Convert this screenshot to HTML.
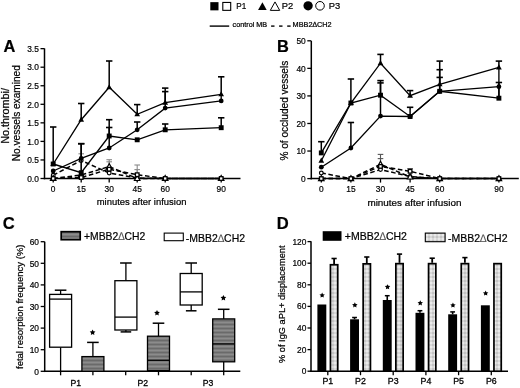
<!DOCTYPE html>
<html><head><meta charset="utf-8"><style>
html,body{margin:0;padding:0;background:#fff;}
svg{display:block;will-change:transform;}
text{font-family:"Liberation Sans",sans-serif;stroke:#000;stroke-width:0.22px;}
</style></head><body>
<svg width="520" height="388" viewBox="0 0 520 388">
<rect width="520" height="388" fill="#fff"/>
<defs>
<pattern id="cg" patternUnits="userSpaceOnUse" width="6" height="4">
<rect width="6" height="4" fill="#7c7c7c"/><rect y="0" width="6" height="1" fill="#6a6a6a"/><rect y="2" width="6" height="1" fill="#8c8c8c"/>
</pattern>
<pattern id="dg" patternUnits="userSpaceOnUse" width="4" height="4">
<rect width="4" height="4" fill="#d8d8d8"/><rect width="2" height="2" fill="#c4c4c4"/><rect x="2" y="2" width="2" height="2" fill="#eaeaea"/>
</pattern>
</defs>
<rect x="210.3" y="2.15" width="8.2" height="8.2" fill="#000"/>
<rect x="222.8" y="2.45" width="7.9" height="7.9" fill="#fff" stroke="#000" stroke-width="1.1"/>
<text x="236.3" y="9" font-size="9.8" text-anchor="start" textLength="10" lengthAdjust="spacingAndGlyphs" fill="#000">P1</text>
<polygon points="262.4,2.36 266.7,10.1 258.1,10.1" fill="#000"/>
<polygon points="275,1.92 279.7,10.38 270.3,10.38" fill="#fff" stroke="#000" stroke-width="1"/>
<text x="281.8" y="9" font-size="9.8" text-anchor="start" textLength="11.5" lengthAdjust="spacingAndGlyphs" fill="#000">P2</text>
<circle cx="308.1" cy="5.8" r="4.65" fill="#000"/>
<circle cx="320" cy="5.8" r="4.3" fill="#fff" stroke="#000" stroke-width="1"/>
<text x="328.7" y="8.8" font-size="9.8" text-anchor="start" textLength="11.5" lengthAdjust="spacingAndGlyphs" fill="#000">P3</text>
<line x1="209.7" y1="26.1" x2="229.2" y2="26.1" stroke="#000" stroke-width="1.4" stroke-linecap="butt"/>
<text x="232.6" y="26.8" font-size="7.2" text-anchor="start" textLength="34.6" lengthAdjust="spacingAndGlyphs" fill="#000">control MB</text>
<line x1="271.1" y1="26.1" x2="274.5" y2="26.1" stroke="#000" stroke-width="1.4" stroke-linecap="butt"/>
<line x1="279.1" y1="26.1" x2="282.5" y2="26.1" stroke="#000" stroke-width="1.4" stroke-linecap="butt"/>
<line x1="287.2" y1="26.1" x2="290.6" y2="26.1" stroke="#000" stroke-width="1.4" stroke-linecap="butt"/>
<text x="292.6" y="27" font-size="7.3" text-anchor="start" textLength="39" lengthAdjust="spacingAndGlyphs" fill="#000">MBB2∆CH2</text>
<text x="3.6" y="52" font-size="16.4" text-anchor="start" font-weight="bold" fill="#000">A</text>
<line x1="44.5" y1="48.4" x2="44.5" y2="179.25" stroke="#000" stroke-width="1.5" stroke-linecap="butt"/>
<line x1="43.75" y1="178.5" x2="240.5" y2="178.5" stroke="#000" stroke-width="1.5" stroke-linecap="butt"/>
<line x1="40.5" y1="178.5" x2="44.5" y2="178.5" stroke="#000" stroke-width="1.3" stroke-linecap="butt"/>
<text x="38.8" y="181.7" font-size="9.3" text-anchor="end" textLength="11.64" lengthAdjust="spacingAndGlyphs" fill="#000">0.0</text>
<line x1="40.5" y1="159.95" x2="44.5" y2="159.95" stroke="#000" stroke-width="1.3" stroke-linecap="butt"/>
<text x="38.8" y="163.15" font-size="9.3" text-anchor="end" textLength="11.64" lengthAdjust="spacingAndGlyphs" fill="#000">0.5</text>
<line x1="40.5" y1="141.4" x2="44.5" y2="141.4" stroke="#000" stroke-width="1.3" stroke-linecap="butt"/>
<text x="38.8" y="144.6" font-size="9.3" text-anchor="end" textLength="11.64" lengthAdjust="spacingAndGlyphs" fill="#000">1.0</text>
<line x1="40.5" y1="122.85" x2="44.5" y2="122.85" stroke="#000" stroke-width="1.3" stroke-linecap="butt"/>
<text x="38.8" y="126.05" font-size="9.3" text-anchor="end" textLength="11.64" lengthAdjust="spacingAndGlyphs" fill="#000">1.5</text>
<line x1="40.5" y1="104.3" x2="44.5" y2="104.3" stroke="#000" stroke-width="1.3" stroke-linecap="butt"/>
<text x="38.8" y="107.5" font-size="9.3" text-anchor="end" textLength="11.64" lengthAdjust="spacingAndGlyphs" fill="#000">2.0</text>
<line x1="40.5" y1="85.75" x2="44.5" y2="85.75" stroke="#000" stroke-width="1.3" stroke-linecap="butt"/>
<text x="38.8" y="88.95" font-size="9.3" text-anchor="end" textLength="11.64" lengthAdjust="spacingAndGlyphs" fill="#000">2.5</text>
<line x1="40.5" y1="67.2" x2="44.5" y2="67.2" stroke="#000" stroke-width="1.3" stroke-linecap="butt"/>
<text x="38.8" y="70.4" font-size="9.3" text-anchor="end" textLength="11.64" lengthAdjust="spacingAndGlyphs" fill="#000">3.0</text>
<line x1="40.5" y1="48.65" x2="44.5" y2="48.65" stroke="#000" stroke-width="1.3" stroke-linecap="butt"/>
<text x="38.8" y="51.85" font-size="9.3" text-anchor="end" textLength="11.64" lengthAdjust="spacingAndGlyphs" fill="#000">3.5</text>
<line x1="53.2" y1="178.5" x2="53.2" y2="182.5" stroke="#000" stroke-width="1.3" stroke-linecap="butt"/>
<text x="53.2" y="192.2" font-size="9.3" text-anchor="middle" textLength="4.66" lengthAdjust="spacingAndGlyphs" fill="#000">0</text>
<line x1="81.2" y1="178.5" x2="81.2" y2="182.5" stroke="#000" stroke-width="1.3" stroke-linecap="butt"/>
<text x="81.2" y="192.2" font-size="9.3" text-anchor="middle" textLength="9.31" lengthAdjust="spacingAndGlyphs" fill="#000">15</text>
<line x1="109.2" y1="178.5" x2="109.2" y2="182.5" stroke="#000" stroke-width="1.3" stroke-linecap="butt"/>
<text x="109.2" y="192.2" font-size="9.3" text-anchor="middle" textLength="9.31" lengthAdjust="spacingAndGlyphs" fill="#000">30</text>
<line x1="137.2" y1="178.5" x2="137.2" y2="182.5" stroke="#000" stroke-width="1.3" stroke-linecap="butt"/>
<text x="137.2" y="192.2" font-size="9.3" text-anchor="middle" textLength="9.31" lengthAdjust="spacingAndGlyphs" fill="#000">45</text>
<line x1="165.2" y1="178.5" x2="165.2" y2="182.5" stroke="#000" stroke-width="1.3" stroke-linecap="butt"/>
<text x="165.2" y="192.2" font-size="9.3" text-anchor="middle" textLength="9.31" lengthAdjust="spacingAndGlyphs" fill="#000">60</text>
<line x1="221.2" y1="178.5" x2="221.2" y2="182.5" stroke="#000" stroke-width="1.3" stroke-linecap="butt"/>
<text x="221.2" y="192.2" font-size="9.3" text-anchor="middle" textLength="9.31" lengthAdjust="spacingAndGlyphs" fill="#000">90</text>
<text x="96.7" y="204.9" font-size="9.6" text-anchor="start" textLength="89.7" lengthAdjust="spacingAndGlyphs" fill="#000">minutes after infusion</text>
<text x="9.3" y="143.8" font-size="10" text-anchor="start" textLength="55.8" lengthAdjust="spacingAndGlyphs" transform="rotate(-90 9.3 143.8)" fill="#000">No.thrombi/</text>
<text x="19.7" y="161.2" font-size="10" text-anchor="start" textLength="96" lengthAdjust="spacingAndGlyphs" transform="rotate(-90 19.7 161.2)" fill="#000">No.vessels examined</text>
<line x1="81.2" y1="153.8" x2="81.2" y2="176" stroke="#8a8a8a" stroke-width="1.1" stroke-linecap="butt"/>
<line x1="78.4" y1="153.8" x2="84" y2="153.8" stroke="#8a8a8a" stroke-width="1.1" stroke-linecap="butt"/>
<line x1="109.2" y1="159.7" x2="109.2" y2="168" stroke="#8a8a8a" stroke-width="1.1" stroke-linecap="butt"/>
<line x1="106.4" y1="159.7" x2="112" y2="159.7" stroke="#8a8a8a" stroke-width="1.1" stroke-linecap="butt"/>
<line x1="109.2" y1="161.8" x2="109.2" y2="168" stroke="#8a8a8a" stroke-width="1.1" stroke-linecap="butt"/>
<line x1="106.4" y1="161.8" x2="112" y2="161.8" stroke="#8a8a8a" stroke-width="1.1" stroke-linecap="butt"/>
<line x1="137.2" y1="165" x2="137.2" y2="174.7" stroke="#8a8a8a" stroke-width="1.1" stroke-linecap="butt"/>
<line x1="134.4" y1="165" x2="140" y2="165" stroke="#8a8a8a" stroke-width="1.1" stroke-linecap="butt"/>
<line x1="137.2" y1="169.6" x2="137.2" y2="174.7" stroke="#8a8a8a" stroke-width="1.1" stroke-linecap="butt"/>
<line x1="134.4" y1="169.6" x2="140" y2="169.6" stroke="#8a8a8a" stroke-width="1.1" stroke-linecap="butt"/>
<polyline points="53.2,178.5 81.2,177.5 109.2,169.2 137.2,174.7 165.2,178.5 221.2,178.5" fill="none" stroke="#000" stroke-width="1.5" stroke-linejoin="miter" stroke-dasharray="4.6 2.6"/>
<polyline points="53.2,178.5 81.2,175 109.2,166.6 137.2,178.5 165.2,178.5 221.2,178.5" fill="none" stroke="#000" stroke-width="1.5" stroke-linejoin="miter" stroke-dasharray="4.6 2.6"/>
<polyline points="53.2,175.2 81.2,160.5 109.2,173 137.2,178 165.2,178.5 221.2,178.5" fill="none" stroke="#000" stroke-width="1.5" stroke-linejoin="miter" stroke-dasharray="4.6 2.6"/>
<circle cx="53.2" cy="175.2" r="1.85" fill="#fff" stroke="#000" stroke-width="1.2"/>
<circle cx="81.2" cy="160.5" r="1.85" fill="#fff" stroke="#000" stroke-width="1.2"/>
<circle cx="109.2" cy="173" r="1.85" fill="#fff" stroke="#000" stroke-width="1.2"/>
<circle cx="137.2" cy="178" r="1.85" fill="#fff" stroke="#000" stroke-width="1.2"/>
<circle cx="165.2" cy="178.5" r="1.85" fill="#fff" stroke="#000" stroke-width="1.2"/>
<circle cx="221.2" cy="178.5" r="1.85" fill="#fff" stroke="#000" stroke-width="1.2"/>
<polygon points="53.2,175.53 55.95,180.48 50.45,180.48" fill="#fff" stroke="#000" stroke-width="1.2"/>
<polygon points="81.2,172.03 83.95,176.98 78.45,176.98" fill="#fff" stroke="#000" stroke-width="1.2"/>
<polygon points="109.2,163.63 111.95,168.58 106.45,168.58" fill="#fff" stroke="#000" stroke-width="1.2"/>
<polygon points="137.2,175.53 139.95,180.48 134.45,180.48" fill="#fff" stroke="#000" stroke-width="1.2"/>
<polygon points="165.2,175.53 167.95,180.48 162.45,180.48" fill="#fff" stroke="#000" stroke-width="1.2"/>
<polygon points="221.2,175.53 223.95,180.48 218.45,180.48" fill="#fff" stroke="#000" stroke-width="1.2"/>
<rect x="51.4" y="176.7" width="3.6" height="3.6" fill="#fff" stroke="#000" stroke-width="1.3"/>
<rect x="79.4" y="175.7" width="3.6" height="3.6" fill="#fff" stroke="#000" stroke-width="1.3"/>
<rect x="107.4" y="167.4" width="3.6" height="3.6" fill="#fff" stroke="#000" stroke-width="1.3"/>
<rect x="135.4" y="172.9" width="3.6" height="3.6" fill="#fff" stroke="#000" stroke-width="1.3"/>
<rect x="163.4" y="176.7" width="3.6" height="3.6" fill="#fff" stroke="#000" stroke-width="1.3"/>
<rect x="219.4" y="176.7" width="3.6" height="3.6" fill="#fff" stroke="#000" stroke-width="1.3"/>
<line x1="53.2" y1="127" x2="53.2" y2="164" stroke="#000" stroke-width="1.5" stroke-linecap="butt"/>
<line x1="50" y1="127" x2="56.4" y2="127" stroke="#000" stroke-width="1.6" stroke-linecap="butt"/>
<line x1="81.2" y1="143.7" x2="81.2" y2="172.7" stroke="#000" stroke-width="1.5" stroke-linecap="butt"/>
<line x1="78" y1="143.7" x2="84.4" y2="143.7" stroke="#000" stroke-width="1.6" stroke-linecap="butt"/>
<line x1="109.2" y1="119.7" x2="109.2" y2="136" stroke="#000" stroke-width="1.5" stroke-linecap="butt"/>
<line x1="106" y1="119.7" x2="112.4" y2="119.7" stroke="#000" stroke-width="1.6" stroke-linecap="butt"/>
<line x1="165.2" y1="124" x2="165.2" y2="129.8" stroke="#000" stroke-width="1.5" stroke-linecap="butt"/>
<line x1="162" y1="124" x2="168.4" y2="124" stroke="#000" stroke-width="1.6" stroke-linecap="butt"/>
<line x1="221.2" y1="117.8" x2="221.2" y2="127.7" stroke="#000" stroke-width="1.5" stroke-linecap="butt"/>
<line x1="218" y1="117.8" x2="224.4" y2="117.8" stroke="#000" stroke-width="1.6" stroke-linecap="butt"/>
<line x1="81.2" y1="103.5" x2="81.2" y2="119.7" stroke="#000" stroke-width="1.5" stroke-linecap="butt"/>
<line x1="78" y1="103.5" x2="84.4" y2="103.5" stroke="#000" stroke-width="1.6" stroke-linecap="butt"/>
<line x1="109.2" y1="61" x2="109.2" y2="87.3" stroke="#000" stroke-width="1.5" stroke-linecap="butt"/>
<line x1="106" y1="61" x2="112.4" y2="61" stroke="#000" stroke-width="1.6" stroke-linecap="butt"/>
<line x1="137.2" y1="104.6" x2="137.2" y2="114.3" stroke="#000" stroke-width="1.5" stroke-linecap="butt"/>
<line x1="134" y1="104.6" x2="140.4" y2="104.6" stroke="#000" stroke-width="1.6" stroke-linecap="butt"/>
<line x1="165.2" y1="88.1" x2="165.2" y2="102.6" stroke="#000" stroke-width="1.5" stroke-linecap="butt"/>
<line x1="162" y1="88.1" x2="168.4" y2="88.1" stroke="#000" stroke-width="1.6" stroke-linecap="butt"/>
<line x1="221.2" y1="76.8" x2="221.2" y2="94.3" stroke="#000" stroke-width="1.5" stroke-linecap="butt"/>
<line x1="218" y1="76.8" x2="224.4" y2="76.8" stroke="#000" stroke-width="1.6" stroke-linecap="butt"/>
<line x1="81.2" y1="143.7" x2="81.2" y2="158.4" stroke="#000" stroke-width="1.5" stroke-linecap="butt"/>
<line x1="78" y1="143.7" x2="84.4" y2="143.7" stroke="#000" stroke-width="1.6" stroke-linecap="butt"/>
<line x1="109.2" y1="127.5" x2="109.2" y2="148" stroke="#000" stroke-width="1.5" stroke-linecap="butt"/>
<line x1="106" y1="127.5" x2="112.4" y2="127.5" stroke="#000" stroke-width="1.6" stroke-linecap="butt"/>
<line x1="137.2" y1="122" x2="137.2" y2="129.8" stroke="#000" stroke-width="1.5" stroke-linecap="butt"/>
<line x1="134" y1="122" x2="140.4" y2="122" stroke="#000" stroke-width="1.6" stroke-linecap="butt"/>
<line x1="165.2" y1="91.6" x2="165.2" y2="108.1" stroke="#000" stroke-width="1.5" stroke-linecap="butt"/>
<line x1="162" y1="91.6" x2="168.4" y2="91.6" stroke="#000" stroke-width="1.6" stroke-linecap="butt"/>
<polyline points="53.2,164 81.2,172.7 109.2,136 137.2,139.8 165.2,129.8 221.2,127.7" fill="none" stroke="#000" stroke-width="1.35" stroke-linejoin="miter"/>
<polyline points="53.2,164 81.2,119.7 109.2,87.3 137.2,114.3 165.2,102.6 221.2,94.3" fill="none" stroke="#000" stroke-width="1.35" stroke-linejoin="miter"/>
<polyline points="53.2,171 81.2,158.4 109.2,148 137.2,129.8 165.2,108.1 221.2,100.9" fill="none" stroke="#000" stroke-width="1.35" stroke-linejoin="miter"/>
<rect x="50.75" y="161.55" width="4.9" height="4.9" fill="#000"/>
<rect x="78.75" y="170.25" width="4.9" height="4.9" fill="#000"/>
<rect x="106.75" y="133.55" width="4.9" height="4.9" fill="#000"/>
<rect x="134.75" y="137.35" width="4.9" height="4.9" fill="#000"/>
<rect x="162.75" y="127.35" width="4.9" height="4.9" fill="#000"/>
<rect x="218.75" y="125.25" width="4.9" height="4.9" fill="#000"/>
<polygon points="53.2,160.92 56.05,166.05 50.35,166.05" fill="#000"/>
<polygon points="81.2,116.62 84.05,121.75 78.35,121.75" fill="#000"/>
<polygon points="109.2,84.22 112.05,89.35 106.35,89.35" fill="#000"/>
<polygon points="137.2,111.22 140.05,116.35 134.35,116.35" fill="#000"/>
<polygon points="165.2,99.52 168.05,104.65 162.35,104.65" fill="#000"/>
<polygon points="221.2,91.22 224.05,96.35 218.35,96.35" fill="#000"/>
<circle cx="53.2" cy="171" r="2.4" fill="#000"/>
<circle cx="81.2" cy="158.4" r="2.4" fill="#000"/>
<circle cx="109.2" cy="148" r="2.4" fill="#000"/>
<circle cx="137.2" cy="129.8" r="2.4" fill="#000"/>
<circle cx="165.2" cy="108.1" r="2.4" fill="#000"/>
<circle cx="221.2" cy="100.9" r="2.4" fill="#000"/>
<line x1="221.2" y1="94.3" x2="221.2" y2="100.9" stroke="#000" stroke-width="1.35" stroke-linecap="butt"/>
<text x="276.9" y="51.7" font-size="16.4" text-anchor="start" font-weight="bold" fill="#000">B</text>
<line x1="311.3" y1="40.9" x2="311.3" y2="179.35" stroke="#000" stroke-width="1.5" stroke-linecap="butt"/>
<line x1="310.55" y1="178.6" x2="518.8" y2="178.6" stroke="#000" stroke-width="1.5" stroke-linecap="butt"/>
<line x1="307.3" y1="178.6" x2="311.3" y2="178.6" stroke="#000" stroke-width="1.3" stroke-linecap="butt"/>
<text x="305.7" y="181.9" font-size="9.3" text-anchor="end" textLength="4.66" lengthAdjust="spacingAndGlyphs" fill="#000">0</text>
<line x1="307.3" y1="151.04" x2="311.3" y2="151.04" stroke="#000" stroke-width="1.3" stroke-linecap="butt"/>
<text x="305.7" y="154.34" font-size="9.3" text-anchor="end" textLength="9.31" lengthAdjust="spacingAndGlyphs" fill="#000">10</text>
<line x1="307.3" y1="123.48" x2="311.3" y2="123.48" stroke="#000" stroke-width="1.3" stroke-linecap="butt"/>
<text x="305.7" y="126.78" font-size="9.3" text-anchor="end" textLength="9.31" lengthAdjust="spacingAndGlyphs" fill="#000">20</text>
<line x1="307.3" y1="95.92" x2="311.3" y2="95.92" stroke="#000" stroke-width="1.3" stroke-linecap="butt"/>
<text x="305.7" y="99.22" font-size="9.3" text-anchor="end" textLength="9.31" lengthAdjust="spacingAndGlyphs" fill="#000">30</text>
<line x1="307.3" y1="68.36" x2="311.3" y2="68.36" stroke="#000" stroke-width="1.3" stroke-linecap="butt"/>
<text x="305.7" y="71.66" font-size="9.3" text-anchor="end" textLength="9.31" lengthAdjust="spacingAndGlyphs" fill="#000">40</text>
<line x1="307.3" y1="40.8" x2="311.3" y2="40.8" stroke="#000" stroke-width="1.3" stroke-linecap="butt"/>
<text x="305.7" y="44.1" font-size="9.3" text-anchor="end" textLength="9.31" lengthAdjust="spacingAndGlyphs" fill="#000">50</text>
<line x1="321.3" y1="178.6" x2="321.3" y2="182.6" stroke="#000" stroke-width="1.3" stroke-linecap="butt"/>
<text x="321.3" y="192.3" font-size="9.3" text-anchor="middle" textLength="4.66" lengthAdjust="spacingAndGlyphs" fill="#000">0</text>
<line x1="350.9" y1="178.6" x2="350.9" y2="182.6" stroke="#000" stroke-width="1.3" stroke-linecap="butt"/>
<text x="350.9" y="192.3" font-size="9.3" text-anchor="middle" textLength="9.31" lengthAdjust="spacingAndGlyphs" fill="#000">15</text>
<line x1="380.5" y1="178.6" x2="380.5" y2="182.6" stroke="#000" stroke-width="1.3" stroke-linecap="butt"/>
<text x="380.5" y="192.3" font-size="9.3" text-anchor="middle" textLength="9.31" lengthAdjust="spacingAndGlyphs" fill="#000">30</text>
<line x1="410.1" y1="178.6" x2="410.1" y2="182.6" stroke="#000" stroke-width="1.3" stroke-linecap="butt"/>
<text x="410.1" y="192.3" font-size="9.3" text-anchor="middle" textLength="9.31" lengthAdjust="spacingAndGlyphs" fill="#000">45</text>
<line x1="439.7" y1="178.6" x2="439.7" y2="182.6" stroke="#000" stroke-width="1.3" stroke-linecap="butt"/>
<text x="439.7" y="192.3" font-size="9.3" text-anchor="middle" textLength="9.31" lengthAdjust="spacingAndGlyphs" fill="#000">60</text>
<line x1="498.9" y1="178.6" x2="498.9" y2="182.6" stroke="#000" stroke-width="1.3" stroke-linecap="butt"/>
<text x="498.9" y="192.3" font-size="9.3" text-anchor="middle" textLength="9.31" lengthAdjust="spacingAndGlyphs" fill="#000">90</text>
<text x="367.4" y="206.4" font-size="9.9" text-anchor="start" textLength="94.1" lengthAdjust="spacingAndGlyphs" fill="#000">minutes after infusion</text>
<text x="288.5" y="160.6" font-size="10" text-anchor="start" textLength="99.8" lengthAdjust="spacingAndGlyphs" transform="rotate(-90 288.5 160.6)" fill="#000">% of occluded vessels</text>
<line x1="380.5" y1="154.4" x2="380.5" y2="164.3" stroke="#555" stroke-width="1.1" stroke-linecap="butt"/>
<line x1="377.7" y1="154.4" x2="383.3" y2="154.4" stroke="#555" stroke-width="1.1" stroke-linecap="butt"/>
<line x1="380.5" y1="158.6" x2="380.5" y2="166.4" stroke="#555" stroke-width="1.1" stroke-linecap="butt"/>
<line x1="377.7" y1="158.6" x2="383.3" y2="158.6" stroke="#555" stroke-width="1.1" stroke-linecap="butt"/>
<line x1="410.1" y1="168.6" x2="410.1" y2="171.3" stroke="#555" stroke-width="1.1" stroke-linecap="butt"/>
<line x1="407.3" y1="168.6" x2="412.9" y2="168.6" stroke="#555" stroke-width="1.1" stroke-linecap="butt"/>
<polyline points="321.3,178.6 350.9,178.6 380.5,166.4 410.1,171.3 439.7,178.6 498.9,178.6" fill="none" stroke="#000" stroke-width="1.5" stroke-linejoin="miter" stroke-dasharray="4.6 2.6"/>
<polyline points="321.3,178.6 350.9,178.6 380.5,164.3 410.1,177 439.7,178.6 498.9,178.6" fill="none" stroke="#000" stroke-width="1.5" stroke-linejoin="miter" stroke-dasharray="4.6 2.6"/>
<polyline points="321.3,173 350.9,178.6 380.5,169.6 410.1,176.5 439.7,178.6 498.9,178.6" fill="none" stroke="#000" stroke-width="1.5" stroke-linejoin="miter" stroke-dasharray="4.6 2.6"/>
<circle cx="321.3" cy="173" r="1.85" fill="#fff" stroke="#000" stroke-width="1.2"/>
<circle cx="350.9" cy="178.6" r="1.85" fill="#fff" stroke="#000" stroke-width="1.2"/>
<circle cx="380.5" cy="169.6" r="1.85" fill="#fff" stroke="#000" stroke-width="1.2"/>
<circle cx="410.1" cy="176.5" r="1.85" fill="#fff" stroke="#000" stroke-width="1.2"/>
<circle cx="439.7" cy="178.6" r="1.85" fill="#fff" stroke="#000" stroke-width="1.2"/>
<circle cx="498.9" cy="178.6" r="1.85" fill="#fff" stroke="#000" stroke-width="1.2"/>
<polygon points="321.3,175.63 324.05,180.58 318.55,180.58" fill="#fff" stroke="#000" stroke-width="1.2"/>
<polygon points="350.9,175.63 353.65,180.58 348.15,180.58" fill="#fff" stroke="#000" stroke-width="1.2"/>
<polygon points="380.5,161.33 383.25,166.28 377.75,166.28" fill="#fff" stroke="#000" stroke-width="1.2"/>
<polygon points="410.1,174.03 412.85,178.98 407.35,178.98" fill="#fff" stroke="#000" stroke-width="1.2"/>
<polygon points="439.7,175.63 442.45,180.58 436.95,180.58" fill="#fff" stroke="#000" stroke-width="1.2"/>
<polygon points="498.9,175.63 501.65,180.58 496.15,180.58" fill="#fff" stroke="#000" stroke-width="1.2"/>
<rect x="319.5" y="176.8" width="3.6" height="3.6" fill="#fff" stroke="#000" stroke-width="1.3"/>
<rect x="349.1" y="176.8" width="3.6" height="3.6" fill="#fff" stroke="#000" stroke-width="1.3"/>
<rect x="378.7" y="164.6" width="3.6" height="3.6" fill="#fff" stroke="#000" stroke-width="1.3"/>
<rect x="408.3" y="169.5" width="3.6" height="3.6" fill="#fff" stroke="#000" stroke-width="1.3"/>
<rect x="437.9" y="176.8" width="3.6" height="3.6" fill="#fff" stroke="#000" stroke-width="1.3"/>
<rect x="497.1" y="176.8" width="3.6" height="3.6" fill="#fff" stroke="#000" stroke-width="1.3"/>
<line x1="321.3" y1="141.7" x2="321.3" y2="152.9" stroke="#000" stroke-width="1.5" stroke-linecap="butt"/>
<line x1="318.1" y1="141.7" x2="324.5" y2="141.7" stroke="#000" stroke-width="1.6" stroke-linecap="butt"/>
<line x1="350.9" y1="79" x2="350.9" y2="103" stroke="#000" stroke-width="1.5" stroke-linecap="butt"/>
<line x1="347.7" y1="79" x2="354.1" y2="79" stroke="#000" stroke-width="1.6" stroke-linecap="butt"/>
<line x1="380.5" y1="80.6" x2="380.5" y2="95.2" stroke="#000" stroke-width="1.5" stroke-linecap="butt"/>
<line x1="377.3" y1="80.6" x2="383.7" y2="80.6" stroke="#000" stroke-width="1.6" stroke-linecap="butt"/>
<line x1="439.7" y1="77.4" x2="439.7" y2="91.3" stroke="#000" stroke-width="1.5" stroke-linecap="butt"/>
<line x1="436.5" y1="77.4" x2="442.9" y2="77.4" stroke="#000" stroke-width="1.6" stroke-linecap="butt"/>
<line x1="498.9" y1="82.5" x2="498.9" y2="98.2" stroke="#000" stroke-width="1.5" stroke-linecap="butt"/>
<line x1="495.7" y1="82.5" x2="502.1" y2="82.5" stroke="#000" stroke-width="1.6" stroke-linecap="butt"/>
<line x1="380.5" y1="54.4" x2="380.5" y2="63.2" stroke="#000" stroke-width="1.5" stroke-linecap="butt"/>
<line x1="377.3" y1="54.4" x2="383.7" y2="54.4" stroke="#000" stroke-width="1.6" stroke-linecap="butt"/>
<line x1="410.1" y1="90.6" x2="410.1" y2="95.7" stroke="#000" stroke-width="1.5" stroke-linecap="butt"/>
<line x1="406.9" y1="90.6" x2="413.3" y2="90.6" stroke="#000" stroke-width="1.6" stroke-linecap="butt"/>
<line x1="439.7" y1="61.1" x2="439.7" y2="84.3" stroke="#000" stroke-width="1.5" stroke-linecap="butt"/>
<line x1="436.5" y1="61.1" x2="442.9" y2="61.1" stroke="#000" stroke-width="1.6" stroke-linecap="butt"/>
<line x1="498.9" y1="61.1" x2="498.9" y2="67.4" stroke="#000" stroke-width="1.5" stroke-linecap="butt"/>
<line x1="495.7" y1="61.1" x2="502.1" y2="61.1" stroke="#000" stroke-width="1.6" stroke-linecap="butt"/>
<line x1="350.9" y1="122.5" x2="350.9" y2="148" stroke="#000" stroke-width="1.5" stroke-linecap="butt"/>
<line x1="347.7" y1="122.5" x2="354.1" y2="122.5" stroke="#000" stroke-width="1.6" stroke-linecap="butt"/>
<line x1="380.5" y1="82.9" x2="380.5" y2="116.1" stroke="#000" stroke-width="1.5" stroke-linecap="butt"/>
<line x1="377.3" y1="82.9" x2="383.7" y2="82.9" stroke="#000" stroke-width="1.6" stroke-linecap="butt"/>
<line x1="410.1" y1="107.3" x2="410.1" y2="116.5" stroke="#000" stroke-width="1.5" stroke-linecap="butt"/>
<line x1="406.9" y1="107.3" x2="413.3" y2="107.3" stroke="#000" stroke-width="1.6" stroke-linecap="butt"/>
<line x1="439.7" y1="69.7" x2="439.7" y2="91.3" stroke="#000" stroke-width="1.5" stroke-linecap="butt"/>
<line x1="436.5" y1="69.7" x2="442.9" y2="69.7" stroke="#000" stroke-width="1.6" stroke-linecap="butt"/>
<polyline points="321.3,152.9 350.9,103 380.5,95.2 410.1,116.5 439.7,91.3 498.9,98.2" fill="none" stroke="#000" stroke-width="1.35" stroke-linejoin="miter"/>
<polyline points="321.3,160.7 350.9,103 380.5,63.2 410.1,95.7 439.7,84.3 498.9,67.4" fill="none" stroke="#000" stroke-width="1.35" stroke-linejoin="miter"/>
<polyline points="321.3,167.2 350.9,148 380.5,116.1 410.1,116.5 439.7,91.3 498.9,86.7" fill="none" stroke="#000" stroke-width="1.35" stroke-linejoin="miter"/>
<rect x="318.85" y="150.45" width="4.9" height="4.9" fill="#000"/>
<rect x="348.45" y="100.55" width="4.9" height="4.9" fill="#000"/>
<rect x="378.05" y="92.75" width="4.9" height="4.9" fill="#000"/>
<rect x="407.65" y="114.05" width="4.9" height="4.9" fill="#000"/>
<rect x="437.25" y="88.85" width="4.9" height="4.9" fill="#000"/>
<rect x="496.45" y="95.75" width="4.9" height="4.9" fill="#000"/>
<polygon points="321.3,157.62 324.15,162.75 318.45,162.75" fill="#000"/>
<polygon points="350.9,99.92 353.75,105.05 348.05,105.05" fill="#000"/>
<polygon points="380.5,60.12 383.35,65.25 377.65,65.25" fill="#000"/>
<polygon points="410.1,92.62 412.95,97.75 407.25,97.75" fill="#000"/>
<polygon points="439.7,81.22 442.55,86.35 436.85,86.35" fill="#000"/>
<polygon points="498.9,64.32 501.75,69.45 496.05,69.45" fill="#000"/>
<circle cx="321.3" cy="167.2" r="2.4" fill="#000"/>
<circle cx="350.9" cy="148" r="2.4" fill="#000"/>
<circle cx="380.5" cy="116.1" r="2.4" fill="#000"/>
<circle cx="410.1" cy="116.5" r="2.4" fill="#000"/>
<circle cx="439.7" cy="91.3" r="2.4" fill="#000"/>
<circle cx="498.9" cy="86.7" r="2.4" fill="#000"/>
<line x1="498.9" y1="67.4" x2="498.9" y2="98.2" stroke="#000" stroke-width="1.35" stroke-linecap="butt"/>
<text x="2.7" y="228.6" font-size="16.6" text-anchor="start" font-weight="bold" fill="#000">C</text>
<line x1="44.7" y1="241.7" x2="44.7" y2="372.05" stroke="#000" stroke-width="1.5" stroke-linecap="butt"/>
<line x1="43.95" y1="371.3" x2="240.3" y2="371.3" stroke="#000" stroke-width="1.5" stroke-linecap="butt"/>
<line x1="40.7" y1="371.3" x2="44.7" y2="371.3" stroke="#000" stroke-width="1.3" stroke-linecap="butt"/>
<text x="39" y="374.6" font-size="9.3" text-anchor="end" textLength="4.66" lengthAdjust="spacingAndGlyphs" fill="#000">0</text>
<line x1="40.7" y1="349.7" x2="44.7" y2="349.7" stroke="#000" stroke-width="1.3" stroke-linecap="butt"/>
<text x="39" y="353" font-size="9.3" text-anchor="end" textLength="9.31" lengthAdjust="spacingAndGlyphs" fill="#000">10</text>
<line x1="40.7" y1="328.1" x2="44.7" y2="328.1" stroke="#000" stroke-width="1.3" stroke-linecap="butt"/>
<text x="39" y="331.4" font-size="9.3" text-anchor="end" textLength="9.31" lengthAdjust="spacingAndGlyphs" fill="#000">20</text>
<line x1="40.7" y1="306.5" x2="44.7" y2="306.5" stroke="#000" stroke-width="1.3" stroke-linecap="butt"/>
<text x="39" y="309.8" font-size="9.3" text-anchor="end" textLength="9.31" lengthAdjust="spacingAndGlyphs" fill="#000">30</text>
<line x1="40.7" y1="284.9" x2="44.7" y2="284.9" stroke="#000" stroke-width="1.3" stroke-linecap="butt"/>
<text x="39" y="288.2" font-size="9.3" text-anchor="end" textLength="9.31" lengthAdjust="spacingAndGlyphs" fill="#000">40</text>
<line x1="40.7" y1="263.3" x2="44.7" y2="263.3" stroke="#000" stroke-width="1.3" stroke-linecap="butt"/>
<text x="39" y="266.6" font-size="9.3" text-anchor="end" textLength="9.31" lengthAdjust="spacingAndGlyphs" fill="#000">50</text>
<line x1="40.7" y1="241.7" x2="44.7" y2="241.7" stroke="#000" stroke-width="1.3" stroke-linecap="butt"/>
<text x="39" y="245" font-size="9.3" text-anchor="end" textLength="9.31" lengthAdjust="spacingAndGlyphs" fill="#000">60</text>
<text x="22.5" y="369" font-size="9.5" text-anchor="start" textLength="124.5" lengthAdjust="spacingAndGlyphs" transform="rotate(-90 22.5 369)" fill="#000">fetal resorption frequency (%)</text>
<line x1="60.6" y1="371.3" x2="60.6" y2="375.3" stroke="#000" stroke-width="1.3" stroke-linecap="butt"/>
<line x1="92.9" y1="371.3" x2="92.9" y2="375.3" stroke="#000" stroke-width="1.3" stroke-linecap="butt"/>
<line x1="125.7" y1="371.3" x2="125.7" y2="375.3" stroke="#000" stroke-width="1.3" stroke-linecap="butt"/>
<line x1="158.5" y1="371.3" x2="158.5" y2="375.3" stroke="#000" stroke-width="1.3" stroke-linecap="butt"/>
<line x1="191.2" y1="371.3" x2="191.2" y2="375.3" stroke="#000" stroke-width="1.3" stroke-linecap="butt"/>
<line x1="223.7" y1="371.3" x2="223.7" y2="375.3" stroke="#000" stroke-width="1.3" stroke-linecap="butt"/>
<line x1="60.6" y1="290.2" x2="60.6" y2="294.4" stroke="#000" stroke-width="1.3" stroke-linecap="butt"/>
<line x1="54.8" y1="290.2" x2="66.4" y2="290.2" stroke="#000" stroke-width="1.5" stroke-linecap="butt"/>
<line x1="60.6" y1="347.2" x2="60.6" y2="371.3" stroke="#000" stroke-width="1.3" stroke-linecap="butt"/>
<rect x="49.6" y="294.4" width="22" height="52.8" fill="#fff" stroke="#000" stroke-width="1.3"/>
<line x1="49.6" y1="299.1" x2="71.6" y2="299.1" stroke="#000" stroke-width="1.3" stroke-linecap="butt"/>
<line x1="92.9" y1="342.4" x2="92.9" y2="356.6" stroke="#000" stroke-width="1.3" stroke-linecap="butt"/>
<line x1="87.1" y1="342.4" x2="98.7" y2="342.4" stroke="#000" stroke-width="1.5" stroke-linecap="butt"/>
<rect x="81.9" y="356.6" width="22" height="14.7" fill="url(#cg)" stroke="#000" stroke-width="1.3"/>
<line x1="125.9" y1="263" x2="125.9" y2="280.7" stroke="#000" stroke-width="1.3" stroke-linecap="butt"/>
<line x1="120.1" y1="263" x2="131.7" y2="263" stroke="#000" stroke-width="1.5" stroke-linecap="butt"/>
<line x1="125.9" y1="330" x2="125.9" y2="331.9" stroke="#000" stroke-width="1.3" stroke-linecap="butt"/>
<line x1="120.6" y1="331.9" x2="131.2" y2="331.9" stroke="#000" stroke-width="1.5" stroke-linecap="butt"/>
<rect x="114.9" y="280.7" width="22" height="49.3" fill="#fff" stroke="#000" stroke-width="1.3"/>
<line x1="114.9" y1="317.1" x2="136.9" y2="317.1" stroke="#000" stroke-width="1.3" stroke-linecap="butt"/>
<line x1="158.5" y1="323.2" x2="158.5" y2="336.2" stroke="#000" stroke-width="1.3" stroke-linecap="butt"/>
<line x1="152.7" y1="323.2" x2="164.3" y2="323.2" stroke="#000" stroke-width="1.5" stroke-linecap="butt"/>
<rect x="147.5" y="336.2" width="22" height="34.4" fill="url(#cg)" stroke="#000" stroke-width="1.3"/>
<line x1="147.5" y1="360.3" x2="169.5" y2="360.3" stroke="#000" stroke-width="1.3" stroke-linecap="butt"/>
<line x1="191.2" y1="263" x2="191.2" y2="273.5" stroke="#000" stroke-width="1.3" stroke-linecap="butt"/>
<line x1="185.4" y1="263" x2="197" y2="263" stroke="#000" stroke-width="1.5" stroke-linecap="butt"/>
<line x1="191.2" y1="305" x2="191.2" y2="310.8" stroke="#000" stroke-width="1.3" stroke-linecap="butt"/>
<line x1="185.9" y1="310.8" x2="196.5" y2="310.8" stroke="#000" stroke-width="1.5" stroke-linecap="butt"/>
<rect x="180.2" y="273.5" width="22" height="31.5" fill="#fff" stroke="#000" stroke-width="1.3"/>
<line x1="180.2" y1="291.9" x2="202.2" y2="291.9" stroke="#000" stroke-width="1.3" stroke-linecap="butt"/>
<line x1="223.7" y1="309.3" x2="223.7" y2="318.9" stroke="#000" stroke-width="1.3" stroke-linecap="butt"/>
<line x1="217.9" y1="309.3" x2="229.5" y2="309.3" stroke="#000" stroke-width="1.5" stroke-linecap="butt"/>
<line x1="223.7" y1="361.8" x2="223.7" y2="371.3" stroke="#000" stroke-width="1.3" stroke-linecap="butt"/>
<rect x="212.7" y="318.9" width="22" height="42.9" fill="url(#cg)" stroke="#000" stroke-width="1.3"/>
<line x1="212.7" y1="343.9" x2="234.7" y2="343.9" stroke="#000" stroke-width="1.3" stroke-linecap="butt"/>
<polygon points="92.6,329.5 93.48,331.29 95.45,331.57 94.03,332.96 94.36,334.93 92.6,334 90.84,334.93 91.17,332.96 89.75,331.57 91.72,331.29" fill="#000"/>
<polygon points="157,310 157.88,311.79 159.85,312.07 158.43,313.46 158.76,315.43 157,314.5 155.24,315.43 155.57,313.46 154.15,312.07 156.12,311.79" fill="#000"/>
<polygon points="223.4,295 224.28,296.79 226.25,297.07 224.83,298.46 225.16,300.43 223.4,299.5 221.64,300.43 221.97,298.46 220.55,297.07 222.52,296.79" fill="#000"/>
<text x="75.8" y="385.9" font-size="9.6" text-anchor="middle" textLength="10.6" lengthAdjust="spacingAndGlyphs" fill="#000" style="stroke-width:0.3px">P1</text>
<text x="142.9" y="385.9" font-size="9.6" text-anchor="middle" textLength="10.6" lengthAdjust="spacingAndGlyphs" fill="#000" style="stroke-width:0.3px">P2</text>
<text x="208.1" y="385.9" font-size="9.6" text-anchor="middle" textLength="10.6" lengthAdjust="spacingAndGlyphs" fill="#000" style="stroke-width:0.3px">P3</text>
<rect x="61.2" y="231.7" width="19.0" height="8.0" fill="url(#cg)" stroke="#000" stroke-width="1.7"/>
<text x="84" y="240.2" font-size="11.2" text-anchor="start" textLength="61.3" lengthAdjust="spacingAndGlyphs" fill="#000">+MBB2<tspan fill="#555" stroke="#555" stroke-width="0.1">∆</tspan>CH2</text>
<rect x="164.2" y="233.1" width="19.1" height="7.6" fill="#fff" stroke="#000" stroke-width="1.1"/>
<text x="185.8" y="241.8" font-size="11" text-anchor="start" textLength="59.2" lengthAdjust="spacingAndGlyphs" fill="#000">-MBB2<tspan fill="#555" stroke="#555" stroke-width="0.1">∆</tspan>CH2</text>
<text x="276.8" y="228.6" font-size="16.6" text-anchor="start" font-weight="bold" fill="#000">D</text>
<line x1="311" y1="241.3" x2="311" y2="371.95" stroke="#000" stroke-width="1.5" stroke-linecap="butt"/>
<line x1="310.25" y1="371.2" x2="508" y2="371.2" stroke="#000" stroke-width="1.5" stroke-linecap="butt"/>
<line x1="307.5" y1="371.2" x2="311" y2="371.2" stroke="#000" stroke-width="1.3" stroke-linecap="butt"/>
<text x="306.4" y="374.2" font-size="9.3" text-anchor="end" textLength="4.66" lengthAdjust="spacingAndGlyphs" fill="#000">0</text>
<line x1="307.5" y1="349.6" x2="311" y2="349.6" stroke="#000" stroke-width="1.3" stroke-linecap="butt"/>
<text x="306.4" y="352.6" font-size="9.3" text-anchor="end" textLength="9.31" lengthAdjust="spacingAndGlyphs" fill="#000">20</text>
<line x1="307.5" y1="328" x2="311" y2="328" stroke="#000" stroke-width="1.3" stroke-linecap="butt"/>
<text x="306.4" y="331" font-size="9.3" text-anchor="end" textLength="9.31" lengthAdjust="spacingAndGlyphs" fill="#000">40</text>
<line x1="307.5" y1="306.4" x2="311" y2="306.4" stroke="#000" stroke-width="1.3" stroke-linecap="butt"/>
<text x="306.4" y="309.4" font-size="9.3" text-anchor="end" textLength="9.31" lengthAdjust="spacingAndGlyphs" fill="#000">60</text>
<line x1="307.5" y1="284.8" x2="311" y2="284.8" stroke="#000" stroke-width="1.3" stroke-linecap="butt"/>
<text x="306.4" y="287.8" font-size="9.3" text-anchor="end" textLength="9.31" lengthAdjust="spacingAndGlyphs" fill="#000">80</text>
<line x1="307.5" y1="263.2" x2="311" y2="263.2" stroke="#000" stroke-width="1.3" stroke-linecap="butt"/>
<text x="306.4" y="266.2" font-size="9.3" text-anchor="end" textLength="13.97" lengthAdjust="spacingAndGlyphs" fill="#000">100</text>
<line x1="307.5" y1="241.6" x2="311" y2="241.6" stroke="#000" stroke-width="1.3" stroke-linecap="butt"/>
<text x="306.4" y="244.6" font-size="9.3" text-anchor="end" textLength="13.97" lengthAdjust="spacingAndGlyphs" fill="#000">120</text>
<text x="285.1" y="363" font-size="9.6" text-anchor="start" textLength="117.6" lengthAdjust="spacingAndGlyphs" transform="rotate(-90 285.1 363)" fill="#000">% of IgG aPL+ displacement</text>
<line x1="327.8" y1="371.2" x2="327.8" y2="375.2" stroke="#000" stroke-width="1.3" stroke-linecap="butt"/>
<rect x="317.4" y="304.5" width="8.9" height="66.7" fill="#000"/>
<line x1="334.1" y1="258.5" x2="334.1" y2="263.9" stroke="#000" stroke-width="1.8" stroke-linecap="butt"/>
<line x1="331.5" y1="258.5" x2="336.7" y2="258.5" stroke="#000" stroke-width="1.6" stroke-linecap="butt"/>
<rect x="330.45" y="264.75" width="7.3" height="106.45" fill="url(#dg)" stroke="#000" stroke-width="1.7"/>
<polygon points="322.15,292.45 322.97,294.17 324.86,294.42 323.48,295.73 323.83,297.61 322.15,296.7 320.47,297.61 320.82,295.73 319.44,294.42 321.33,294.17" fill="#000"/>
<text x="327.8" y="383.8" font-size="9.6" text-anchor="middle" textLength="10.8" lengthAdjust="spacingAndGlyphs" fill="#000" style="stroke-width:0.3px">P1</text>
<line x1="360.5" y1="371.2" x2="360.5" y2="375.2" stroke="#000" stroke-width="1.3" stroke-linecap="butt"/>
<line x1="354.55" y1="317.5" x2="354.55" y2="319.3" stroke="#000" stroke-width="1.6" stroke-linecap="butt"/>
<line x1="352.15" y1="317.5" x2="356.95" y2="317.5" stroke="#000" stroke-width="1.5" stroke-linecap="butt"/>
<rect x="350.1" y="319.3" width="8.9" height="51.9" fill="#000"/>
<line x1="366.8" y1="257" x2="366.8" y2="263" stroke="#000" stroke-width="1.8" stroke-linecap="butt"/>
<line x1="364.2" y1="257" x2="369.4" y2="257" stroke="#000" stroke-width="1.6" stroke-linecap="butt"/>
<rect x="363.15" y="263.85" width="7.3" height="107.35" fill="url(#dg)" stroke="#000" stroke-width="1.7"/>
<polygon points="354.85,302.35 355.67,304.07 357.56,304.32 356.18,305.63 356.53,307.51 354.85,306.6 353.17,307.51 353.52,305.63 352.14,304.32 354.03,304.07" fill="#000"/>
<text x="360.5" y="383.8" font-size="9.6" text-anchor="middle" textLength="10.8" lengthAdjust="spacingAndGlyphs" fill="#000" style="stroke-width:0.3px">P2</text>
<line x1="393.2" y1="371.2" x2="393.2" y2="375.2" stroke="#000" stroke-width="1.3" stroke-linecap="butt"/>
<line x1="387.25" y1="295.7" x2="387.25" y2="300" stroke="#000" stroke-width="1.6" stroke-linecap="butt"/>
<line x1="384.85" y1="295.7" x2="389.65" y2="295.7" stroke="#000" stroke-width="1.5" stroke-linecap="butt"/>
<rect x="382.8" y="300" width="8.9" height="71.2" fill="#000"/>
<line x1="399.5" y1="254.1" x2="399.5" y2="262.8" stroke="#000" stroke-width="1.8" stroke-linecap="butt"/>
<line x1="396.9" y1="254.1" x2="402.1" y2="254.1" stroke="#000" stroke-width="1.6" stroke-linecap="butt"/>
<rect x="395.85" y="263.65" width="7.3" height="107.55" fill="url(#dg)" stroke="#000" stroke-width="1.7"/>
<polygon points="387.55,284.15 388.37,285.87 390.26,286.12 388.88,287.43 389.23,289.31 387.55,288.4 385.87,289.31 386.22,287.43 384.84,286.12 386.73,285.87" fill="#000"/>
<text x="393.2" y="383.8" font-size="9.6" text-anchor="middle" textLength="10.8" lengthAdjust="spacingAndGlyphs" fill="#000" style="stroke-width:0.3px">P3</text>
<line x1="425.9" y1="371.2" x2="425.9" y2="375.2" stroke="#000" stroke-width="1.3" stroke-linecap="butt"/>
<line x1="419.95" y1="310.7" x2="419.95" y2="312.8" stroke="#000" stroke-width="1.6" stroke-linecap="butt"/>
<line x1="417.55" y1="310.7" x2="422.35" y2="310.7" stroke="#000" stroke-width="1.5" stroke-linecap="butt"/>
<rect x="415.5" y="312.8" width="8.9" height="58.4" fill="#000"/>
<line x1="432.2" y1="258.2" x2="432.2" y2="262.8" stroke="#000" stroke-width="1.8" stroke-linecap="butt"/>
<line x1="429.6" y1="258.2" x2="434.8" y2="258.2" stroke="#000" stroke-width="1.6" stroke-linecap="butt"/>
<rect x="428.55" y="263.65" width="7.3" height="107.55" fill="url(#dg)" stroke="#000" stroke-width="1.7"/>
<polygon points="420.25,300.25 421.07,301.97 422.96,302.22 421.58,303.53 421.93,305.41 420.25,304.5 418.57,305.41 418.92,303.53 417.54,302.22 419.43,301.97" fill="#000"/>
<text x="425.9" y="383.8" font-size="9.6" text-anchor="middle" textLength="10.8" lengthAdjust="spacingAndGlyphs" fill="#000" style="stroke-width:0.3px">P4</text>
<line x1="458.6" y1="371.2" x2="458.6" y2="375.2" stroke="#000" stroke-width="1.3" stroke-linecap="butt"/>
<line x1="452.65" y1="311.9" x2="452.65" y2="314.3" stroke="#000" stroke-width="1.6" stroke-linecap="butt"/>
<line x1="450.25" y1="311.9" x2="455.05" y2="311.9" stroke="#000" stroke-width="1.5" stroke-linecap="butt"/>
<rect x="448.2" y="314.3" width="8.9" height="56.9" fill="#000"/>
<line x1="464.9" y1="257.6" x2="464.9" y2="262.8" stroke="#000" stroke-width="1.8" stroke-linecap="butt"/>
<line x1="462.3" y1="257.6" x2="467.5" y2="257.6" stroke="#000" stroke-width="1.6" stroke-linecap="butt"/>
<rect x="461.25" y="263.65" width="7.3" height="107.55" fill="url(#dg)" stroke="#000" stroke-width="1.7"/>
<polygon points="452.95,302.45 453.77,304.17 455.66,304.42 454.28,305.73 454.63,307.61 452.95,306.7 451.27,307.61 451.62,305.73 450.24,304.42 452.13,304.17" fill="#000"/>
<text x="458.6" y="383.8" font-size="9.6" text-anchor="middle" textLength="10.8" lengthAdjust="spacingAndGlyphs" fill="#000" style="stroke-width:0.3px">P5</text>
<line x1="491.3" y1="371.2" x2="491.3" y2="375.2" stroke="#000" stroke-width="1.3" stroke-linecap="butt"/>
<rect x="480.9" y="305.3" width="8.9" height="65.9" fill="#000"/>
<rect x="493.95" y="263.65" width="7.3" height="107.55" fill="url(#dg)" stroke="#000" stroke-width="1.7"/>
<polygon points="485.65,290.45 486.47,292.17 488.36,292.42 486.98,293.73 487.33,295.61 485.65,294.7 483.97,295.61 484.32,293.73 482.94,292.42 484.83,292.17" fill="#000"/>
<text x="491.3" y="383.8" font-size="9.6" text-anchor="middle" textLength="10.8" lengthAdjust="spacingAndGlyphs" fill="#000" style="stroke-width:0.3px">P6</text>
<rect x="322.7" y="231.2" width="18.8" height="9.6" fill="#000"/>
<text x="344.8" y="240.3" font-size="11.2" text-anchor="start" textLength="62.1" lengthAdjust="spacingAndGlyphs" fill="#000">+MBB2<tspan fill="#555" stroke="#555" stroke-width="0.1">∆</tspan>CH2</text>
<rect x="425.3" y="233.1" width="19.8" height="8.6" fill="url(#dg)" stroke="#000" stroke-width="1.1"/>
<text x="447.9" y="241.8" font-size="11" text-anchor="start" textLength="59.6" lengthAdjust="spacingAndGlyphs" fill="#000">-MBB2<tspan fill="#555" stroke="#555" stroke-width="0.1">∆</tspan>CH2</text>
</svg>
</body></html>
